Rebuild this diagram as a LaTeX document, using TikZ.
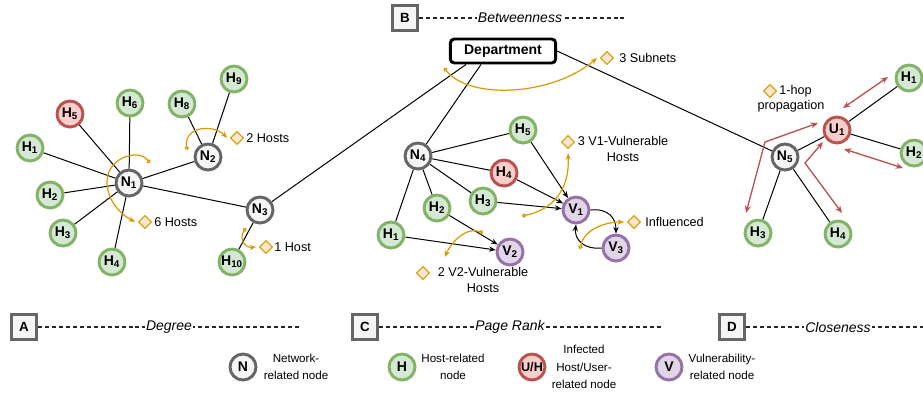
\documentclass[tikz,border=0pt]{standalone}
\usepackage{fontspec}
\setmainfont{Liberation Sans}
\usepackage{tikz}
\usetikzlibrary{arrows.meta,
                shapes.geometric}
\usetikzlibrary{calc}

\definecolor{hostfill}{HTML}{D5E8D4}
\definecolor{hostline}{HTML}{82B366}
\definecolor{infectfill}{HTML}{F8CECC}
\definecolor{infectline}{HTML}{B85450}
\definecolor{vulnfill}{HTML}{E1D5E7}
\definecolor{vulnline}{HTML}{9673A6}
\definecolor{netfill}{HTML}{F5F5F5}
\definecolor{netline}{HTML}{666666}
\definecolor{hintline}{HTML}{D79B00}
\definecolor{hintfill}{HTML}{FFE6CC}

\tikzset{
  nd/.style={circle, line width=2.2pt, minimum size=19.5pt, inner sep=0pt,
             font=\fontsize{10.5}{12}\selectfont\bfseries},
  net/.style={nd, draw=netline, fill=netfill},
  host/.style={nd, draw=hostline, fill=hostfill},
  infected/.style={nd, draw=infectline, fill=infectfill},
  vuln/.style={nd, draw=vulnline, fill=vulnfill},
  hint/.style={diamond, draw=hintline, fill=hintfill, line width=0.8pt,
               minimum size=10pt, inner sep=0pt},
  hinttext/.style={font=\fontsize{9.5}{11.5}\selectfont, align=center, inner sep=0pt},
  hintarc/.style={draw=hintline, line width=0.9pt,
                  {Circle[length=3.2pt,fill=white]}-{Stealth[length=5pt,width=4pt]}},
  spread/.style={draw=infectline, line width=1pt,
                 {Stealth[length=5.5pt,width=4.5pt]}-{Stealth[length=5.5pt,width=4.5pt]}},
  link/.style={line width=0.75pt},
  dlink/.style={link, -{Stealth[length=5pt,width=4pt]}},
  secbox/.style={draw=netline, fill=netfill, line width=2.6pt, minimum size=19pt,
                 inner sep=0pt, font=\fontsize{10}{12}\selectfont\bfseries},
  secline/.style={black!85, line width=0.8pt, dash pattern=on 3pt off 2.2pt},
  sectitle/.style={fill=white, inner sep=1pt, font=\fontsize{10.5}{12}\selectfont\itshape},
  legtext/.style={font=\fontsize{8.7}{13}\selectfont, align=center, inner sep=0pt}
}

\begin{document}
\begin{tikzpicture}[x=0.75pt, y=-0.75pt]
    % Fix the frame of the picture
    \useasboundingbox (0,0) rectangle (923,394);
    \clip (0,0) rectangle (923,394);

    % Department at the top
    \node[draw, line width=2.2pt, rounded corners=3pt, minimum width=79pt, minimum height=18pt,
          font=\fontsize{10.5}{12}\selectfont\bfseries] (dept) at (503,51) {Department};

    % Subnet of degree (left)
    \node[net] (n1) at (129,183) {N\textsubscript{1}};
    \node[net] (n2) at (208,157) {N\textsubscript{2}};
    \node[net] (n3) at (260,210) {N\textsubscript{3}};
    \node[host] (ha1) at (30,148) {H\textsubscript{1}};
    \node[host] (ha2) at (50,195) {H\textsubscript{2}};
    \node[host] (ha3) at (63,233) {H\textsubscript{3}};
    \node[host] (ha4) at (112,262) {H\textsubscript{4}};
    \node[infected] (ha5) at (70,114) {H\textsubscript{5}};
    \node[host] (ha6) at (130,103) {H\textsubscript{6}};
    \node[host] (ha8) at (182,104) {H\textsubscript{8}};
    \node[host] (ha9) at (234,79) {H\textsubscript{9}};
    \node[host] (ha10) at (232,262) {H\textsubscript{10}};

    \foreach \h in {ha1,ha2,ha3,ha4,ha5,ha6,n2,n3}
        \draw[link] (n1) -- (\h);
    \draw[link] (n2) -- (ha8);
    \draw[link] (n2) -- (ha9);
    \draw[link] (n3) -- (ha10);
    \draw[link] (n3) -- ($(dept.south)+(-37,0)$);

    % Subnet of page rank (middle)
    \node[net] (n4) at (418,156) {N\textsubscript{4}};
    \node[host] (hb1) at (391,235) {H\textsubscript{1}};
    \node[host] (hb2) at (437,208) {H\textsubscript{2}};
    \node[host] (hb3) at (483,201) {H\textsubscript{3}};
    \node[infected] (hb4) at (504,173) {H\textsubscript{4}};
    \node[host] (hb5) at (523,130) {H\textsubscript{5}};
    \node[vuln] (v1) at (576,210) {V\textsubscript{1}};
    \node[vuln] (v2) at (510,252) {V\textsubscript{2}};
    \node[vuln] (v3) at (616,248) {V\textsubscript{3}};

    \foreach \h in {hb1,hb2,hb3,hb4,hb5}
        \draw[link] (n4) -- (\h);
    \draw[link] (n4) -- ($(dept.south)+(-22,0)$);
    \foreach \h in {hb3,hb4,hb5}
        \draw[dlink] (\h) -- (v1);
    \draw[dlink] (hb1) -- (v2);
    \draw[dlink] (hb2) -- (v2);
    \draw[dlink] (v1.east) .. controls (608,208) and (616,218) .. (v3.north);
    \draw[dlink] (v3.west) .. controls (585,250) and (574,240) .. (v1.south);

    % Subnet of closeness (right)
    \node[net] (n5) at (785,157) {N\textsubscript{5}};
    \node[infected] (u1) at (837,130) {U\textsubscript{1}};
    \node[host] (hc1) at (909,78) {H\textsubscript{1}};
    \node[host] (hc2) at (914,153) {H\textsubscript{2}};
    \node[host] (hc3) at (758,233) {H\textsubscript{3}};
    \node[host] (hc4) at (838,234) {H\textsubscript{4}};

    \draw[link] (dept.east) -- (n5);
    \draw[link] (n5) -- (u1);
    \draw[link] (u1) -- (hc1);
    \draw[link] (u1) -- (hc2);
    \draw[link] (n5) -- (hc3);
    \draw[link] (n5) -- (hc4);

    % Hints with their diamonds
    \node[hint] (dTwo) at (237,138) {};
    \node[hinttext, anchor=west] (tTwo) at (246,138) {2 Hosts};
    \node[hint] (dSix) at (145,222) {};
    \node[hinttext, anchor=west] (tSix) at (154,222) {6 Hosts};
    \node[hint] (dOne) at (266,247) {};
    \node[hinttext, anchor=west] (tOne) at (274,247) {1 Host};
    \node[hint] (dSub) at (607,58) {};
    \node[hinttext, anchor=west] (tSub) at (619,58) {3 Subnets};
    \node[hint] (dVa) at (568,142) {};
    \node[hinttext] (tVa) at (623,149) {3 V1-Vulnerable\\Hosts};
    \node[hint] (dVb) at (423,273) {};
    \node[hinttext] (tVb) at (483,280) {2 V2-Vulnerable\\Hosts};
    \node[hint] (dInf) at (634,222) {};
    \node[hinttext, anchor=west] (tInf) at (645,222) {Influenced};
    \node[hint] (dHop) at (770,91) {};
    \node[hinttext, anchor=west] (tHop) at (779,91) {1-hop};
    \node[hinttext] (tProp) at (791,106) {propagation};

    % Start points of the hint arcs
    \coordinate (aSix) at (150,163);
    \coordinate (aTwo) at (187,150);
    \coordinate (aOne) at (246,228);
    \coordinate (aSub) at (444,68);
    \coordinate (aVa) at (522,216);
    \coordinate (aVb) at (483,233);
    \coordinate (aInf) at (580,249);

    \draw[hintarc] (aSix) .. controls (138,148) and (106,158) .. (107,183)
                          .. controls (108,204) and (124,216) .. ([xshift=-2pt]dSix.west);
    \draw[hintarc] (aTwo) .. controls (184,126) and (214,124) .. ([xshift=-2pt]dTwo.west);
    \draw[hintarc] (aOne) .. controls (239,238) and (244,248) .. ([xshift=-2pt]dOne.west);
    \draw[hintarc] (aSub) .. controls (470,100) and (552,96) .. ([xshift=-2pt]dSub.west);
    \draw[hintarc] (aVa) .. controls (552,210) and (570,190) .. ([yshift=-3pt]dVa.south);
    \draw[hintarc] (aVb) .. controls (466,226) and (450,244) .. (445,257);
    \draw[hintarc] (aInf) .. controls (584,230) and (604,222) .. ([xshift=-2pt]dInf.west);

    % Spreading of the infected user
    \coordinate (ra) at (843,108);
    \coordinate (rb) at (888,77);
    \coordinate (rc) at (844,149);
    \coordinate (rd) at (903,168);
    \coordinate (re) at (818,123);
    \coordinate (rf) at (765,142);
    \coordinate (rg) at (746,213);
    \coordinate (rh) at (823,142);
    \coordinate (ri) at (805,163);
    \coordinate (rj) at (842,213);
    \draw[spread] (ra) -- (rb);
    \draw[spread] (rc) -- (rd);
    \draw[spread] (re) -- (rf) -- (rg);
    \draw[spread] (rh) -- (ri) -- (rj);

    % Section headers
    \node[secbox] (secA) at (24,327) {A};
    \node[secbox] (secB) at (405,18) {B};
    \node[secbox] (secC) at (365,327) {C};
    \node[secbox] (secD) at (732,327) {D};
    \coordinate (endA) at (300,327);
    \coordinate (endB) at (627,18);
    \coordinate (endC) at (663,327);
    \coordinate (endD) at (923,327);
    \draw[secline] (secA) -- (endA);
    \draw[secline] (secB) -- (endB);
    \draw[secline] (secC) -- (endC);
    \draw[secline] (secD) -- (endD);
    \node[sectitle] (ttlA) at (169,327) {Degree};
    \node[sectitle] (ttlB) at (520,18) {Betweenness};
    \node[sectitle] (ttlC) at (510,327) {Page Rank};
    \node[sectitle] (ttlD) at (838,327) {Closeness};

    % Legend
    \node[net] (legN) at (243,367) {N};
    \node[legtext] (legNt) at (296,367) {Network-\\related node};
    \node[host] (legH) at (402,367) {H};
    \node[legtext] (legHt) at (453,367) {Host-related\\node};
    \node[infected, font=\fontsize{9.5}{11}\selectfont\bfseries] (legU) at (532,367) {U/H};
    \node[legtext] (legUt) at (584,367) {Infected\\Host/User-\\related node};
    \node[vuln] (legV) at (669,367) {V};
    \node[legtext] (legVt) at (722,367) {Vulnerability-\\related node};
\end{tikzpicture}
\end{document}
